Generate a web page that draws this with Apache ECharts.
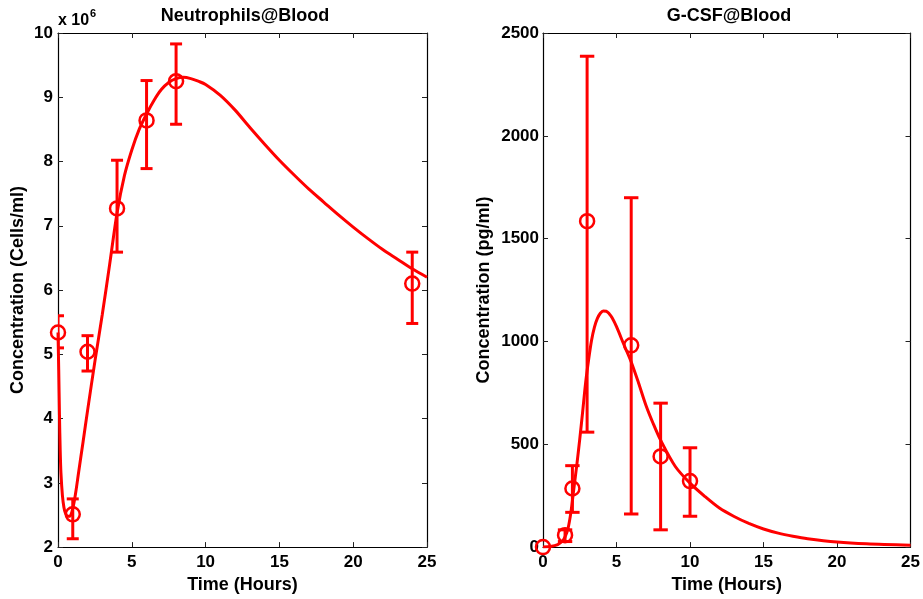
<!DOCTYPE html>
<html><head><meta charset="utf-8">
<script src="https://cdn.jsdelivr.net/npm/echarts@6/dist/echarts.min.js"></script>
<style>html,body{margin:0;padding:0;background:#fff}#c{width:923px;height:599px}</style>
</head><body><div id="c"></div>
<script>
// ---- Neutrophils@Blood (values in 10^6 cells/ml) ----
const neutTimes = [0, 1, 2, 4, 6, 8, 24];
const neutMean  = [5.34, 2.51, 5.04, 7.27, 8.64, 9.25, 6.10];
const neutLow   = [5.10, 2.13, 4.74, 6.59, 7.89, 8.58, 5.48];
const neutHigh  = [5.60, 2.75, 5.29, 8.02, 9.26, 9.83, 6.59];
const neutFitT  = [0,0.05,0.1,0.15,0.2,0.3,0.4,0.5,0.65,0.8,1.0,1.2,1.4,1.7,2.0,2.5,3.0,3.5,4.0,4.5,5.0,5.5,6.0,6.5,7.0,7.5,8.0,8.5,9.0,9.5,10,11,12,13,14,15,16,17,18,19,20,21,22,23,24,25];
const neutFitV  = [5.34,4.75,4.05,3.5,3.15,2.8,2.62,2.53,2.48,2.48,2.6,2.85,3.17,3.64,4.12,4.89,5.62,6.4,7.2,7.78,8.18,8.5,8.74,8.95,9.12,9.23,9.29,9.31,9.29,9.25,9.2,9.03,8.8,8.53,8.27,8.02,7.79,7.57,7.37,7.17,6.98,6.8,6.63,6.48,6.33,6.2];
const neutYTicks = [2,3,4,5,6,7,8,9,10];

// ---- G-CSF@Blood (pg/ml) ----
const gcsfTimes = [0, 1.5, 2, 3, 6, 8, 10];
const gcsfMean  = [0, 58, 285, 1585, 981, 441, 321];
const gcsfLow   = [0, 27, 169, 559, 161, 84, 150];
const gcsfHigh  = [0, 84, 396, 2387, 1699, 700, 483];
const gcsfFitT  = [0,0.5,1.0,1.3,1.5,1.7,1.9,2.1,2.3,2.5,2.7,2.9,3.1,3.3,3.5,3.7,3.9,4.1,4.3,4.5,4.7,5.0,5.5,6.0,6.5,7.0,7.5,8.0,9,10,11,12,13,14,15,16,17,18,20,22,25];
const gcsfFitV  = [0,3,12,28,50,90,170,285,400,525,660,800,910,1005,1070,1112,1137,1148,1147,1135,1115,1072,985,900,798,690,600,520,392,311,247,190,149,115,88,68,53,41,25,16,9];
const gcsfYTicks = [0,500,1000,1500,2000,2500];

const xTicks = [0,5,10,15,20,25];

const RED = '#ff0000';
const FONT = 'Liberation Sans, Arial, Helvetica, sans-serif';

function zip(a, b) { return a.map((v, i) => [v, b[i]]); }
function zip3(a, b, c) { return a.map((v, i) => [v, b[i], c[i]]); }

function errRender(w) {
  return function (params, api) {
    const x = api.value(0), lo = api.value(1), hi = api.value(2);
    if (lo === hi) return null;
    const pLo = api.coord([x, lo]), pHi = api.coord([x, hi]);
    const style = { stroke: RED, lineWidth: 3, fill: null };
    return { type: 'group', children: [
      { type: 'line', shape: { x1: pLo[0], y1: pLo[1], x2: pHi[0], y2: pHi[1] }, style: style },
      { type: 'line', shape: { x1: pLo[0] - w, y1: pLo[1], x2: pLo[0] + w, y2: pLo[1] }, style: style },
      { type: 'line', shape: { x1: pHi[0] - w, y1: pHi[1], x2: pHi[0] + w, y2: pHi[1] }, style: style }
    ]};
  };
}

const axisLine = { show: true, onZero: false, lineStyle: { color: '#000', width: 1.2 } };
const tick = { show: true, inside: true, length: 5, lineStyle: { color: '#222', width: 1 } };
const labelStyle = { color: '#000', fontWeight: 'bold', fontSize: 17, fontFamily: FONT, formatter: v => String(v) };
const nameStyle = { color: '#000', fontWeight: 'bold', fontSize: 18, fontFamily: FONT };

function xAxes(gi, name) {
  return [
    { gridIndex: gi, type: 'value', position: 'bottom', min: xTicks[0], max: xTicks[xTicks.length-1], interval: 5,
      axisLine, axisTick: tick, splitLine: { show: false },
      axisLabel: Object.assign({ margin: 7 }, labelStyle),
      name: name, nameLocation: 'middle', nameGap: 24, nameTextStyle: nameStyle },
    { gridIndex: gi, type: 'value', position: 'top', min: xTicks[0], max: xTicks[xTicks.length-1], interval: 5,
      axisLine, axisTick: tick, splitLine: { show: false }, axisLabel: { show: false } }
  ];
}
function yAxes(gi, ticks, name, gap, margin) {
  const mn = ticks[0], mx = ticks[ticks.length-1], iv = ticks[1]-ticks[0];
  return [
    { gridIndex: gi, type: 'value', position: 'left', min: mn, max: mx, interval: iv,
      axisLine, axisTick: tick, splitLine: { show: false },
      axisLabel: Object.assign({ margin: margin }, labelStyle),
      name: name, nameLocation: 'middle', nameGap: gap, nameTextStyle: nameStyle },
    { gridIndex: gi, type: 'value', position: 'right', min: mn, max: mx, interval: iv,
      axisLine, axisTick: tick, splitLine: { show: false }, axisLabel: { show: false } }
  ];
}

const markerStyle = { color: 'rgba(0,0,0,0)', borderColor: RED, borderWidth: 2.5, opacity: 1 };

const chart = echarts.init(document.getElementById('c'), null, { renderer: 'canvas' });
chart.setOption({
  animation: false,
  backgroundColor: '#fff',
  title: [
    { text: 'Neutrophils@Blood', left: 240, top: 2, textAlign: 'center',
      textStyle: { color: '#000', fontWeight: 'bold', fontSize: 18, fontFamily: FONT } },
    { text: 'G-CSF@Blood', left: 724, top: 2, textAlign: 'center',
      textStyle: { color: '#000', fontWeight: 'bold', fontSize: 18, fontFamily: FONT } }
  ],
  graphic: [
    { type: 'text', left: 58, top: 13, style: { text: 'x 10', fill: '#000', font: 'bold 16px ' + FONT } },
    { type: 'text', left: 90, top: 8, style: { text: '6', fill: '#000', font: 'bold 11px ' + FONT } }
  ],
  grid: [
    { left: 58, right: 496, top: 33, bottom: 48 },
    { left: 543, right: 10, top: 33, bottom: 48 }
  ],
  xAxis: xAxes(0, 'Time (Hours)').concat(xAxes(1, 'Time (Hours)')),
  yAxis: yAxes(0, neutYTicks, 'Concentration (Cells/ml)', 31, 5).concat(yAxes(1, gcsfYTicks, 'Concentration (pg/ml)', 50, 4)),
  series: [
    { type: 'custom', xAxisIndex: 0, yAxisIndex: 0, renderItem: errRender(6), clip: true,
      encode: { x: 0, y: [1, 2] }, data: zip3(neutTimes, neutLow, neutHigh), z: 2 },
    { type: 'line', xAxisIndex: 0, yAxisIndex: 0, data: zip(neutFitT, neutFitV), showSymbol: false,
      smooth: 0.3, clip: true, lineStyle: { color: RED, width: 3 }, z: 3 },
    { type: 'scatter', xAxisIndex: 0, yAxisIndex: 0, data: zip(neutTimes, neutMean), symbol: 'circle', symbolSize: 14,
      clip: false, itemStyle: markerStyle, z: 4 },

    { type: 'custom', xAxisIndex: 2, yAxisIndex: 2, renderItem: errRender(7.2), clip: true,
      encode: { x: 0, y: [1, 2] }, data: zip3(gcsfTimes, gcsfLow, gcsfHigh), z: 2 },
    { type: 'line', xAxisIndex: 2, yAxisIndex: 2, data: zip(gcsfFitT, gcsfFitV), showSymbol: false,
      smooth: 0.3, clip: true, lineStyle: { color: RED, width: 3 }, z: 3 },
    { type: 'scatter', xAxisIndex: 2, yAxisIndex: 2, data: zip(gcsfTimes, gcsfMean), symbol: 'circle', symbolSize: 14,
      clip: false, itemStyle: markerStyle, z: 4 }
  ]
});
</script>
</body></html>
